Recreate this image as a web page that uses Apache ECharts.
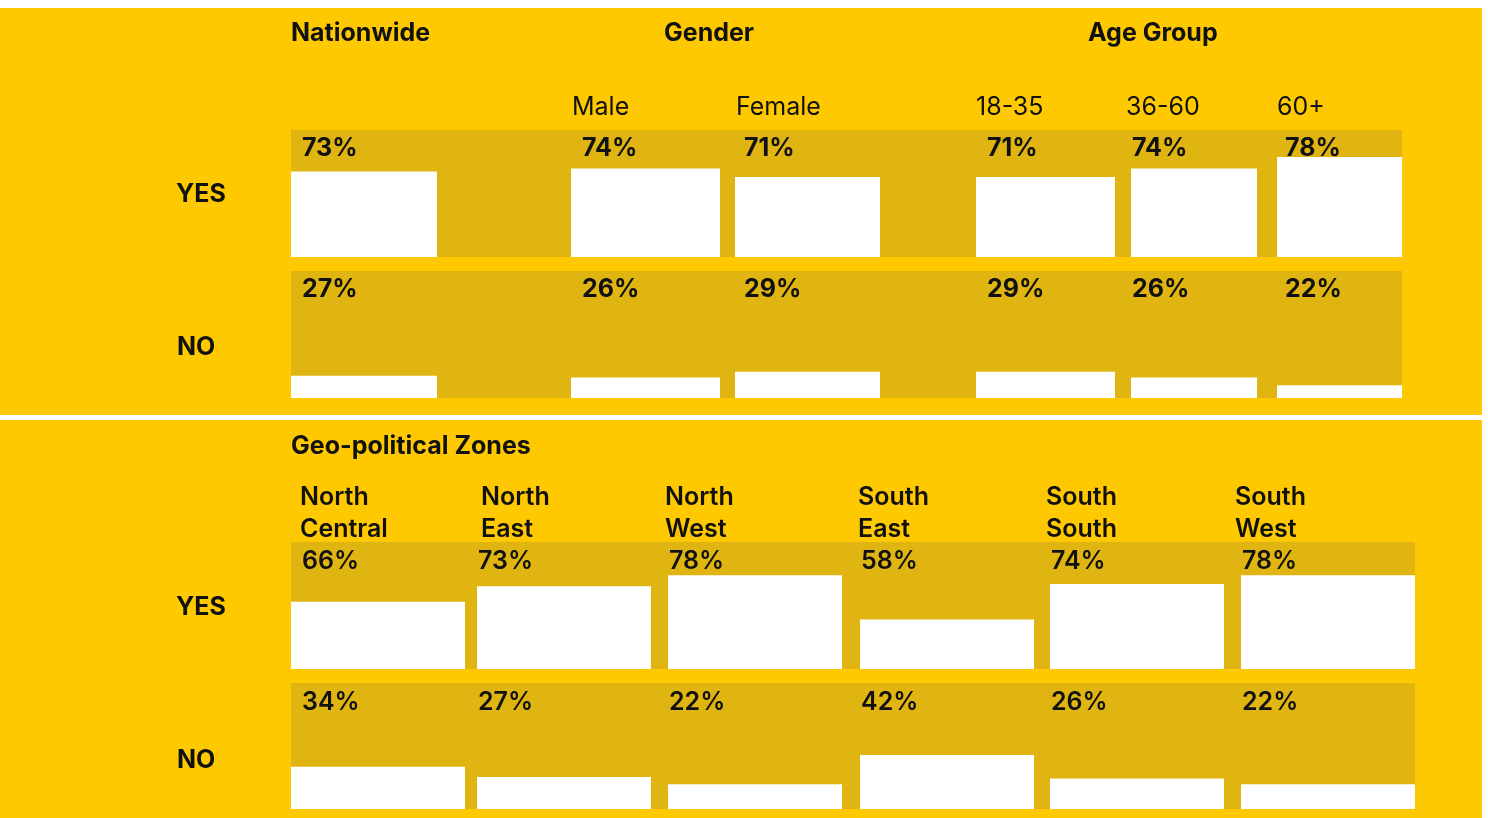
<!DOCTYPE html>
<html>
<head>
<meta charset="utf-8">
<title>Survey results</title>
<script src="https://cdn.jsdelivr.net/npm/echarts@6.0.0/dist/echarts.min.js"></script>
<style>
  html, body { margin: 0; padding: 0; background: #fff; }
  #chart { width: 1488px; height: 818px; }
</style>
</head>
<body>
<div id="chart"></div>
<script>
// ---- data ----
const topHeaders = ['Nationwide', 'Gender', 'Age Group'];
const topCategories = ['', 'Male', 'Female', '18-35', '36-60', '60+'];
const topYes = [73, 74, 71, 71, 74, 78];
const topNo = [27, 26, 29, 29, 26, 22];

const zoneHeader = 'Geo-political Zones';
const zoneCategories = ['North\nCentral', 'North\nEast', 'North\nWest', 'South\nEast', 'South\nSouth', 'South\nWest'];
const zoneYes = [66, 73, 78, 58, 74, 78];
const zoneNo = [34, 27, 22, 42, 26, 22];

const rowLabels = ['YES', 'NO'];

// ---- layout / style ----
const YELLOW = '#fec900';
const BAND = '#e0b512';
const FONT = 'Inter, "Open Sans", sans-serif';

const sections = [
  {
    panel: [8, 407],
    headers: topHeaders, headerX: [291, 664, 1088], headerTop: 18,
    categories: topCategories,
    cells: [[291, 146], [571, 149], [735, 145], [976, 139], [1131, 126], [1277, 125]],
    subX: [0, 572, 736, 976, 1126, 1277], subTop: 92, subWeight: 'normal', subLine: 30,
    labelDx: [11, 11, 9, 11, 1, 8], labelDy: 3, pctWeight: 'bold',
    band: [291, 1402],
    rows: [
      { values: topYes, top: 130, height: 127, min: 43, max: 87.5, labelTop: 179 },
      { values: topNo, top: 271, height: 127, min: 15.3, max: 81.8, labelTop: 332 }
    ]
  },
  {
    panel: [420, 398],
    headers: [zoneHeader], headerX: [291], headerTop: 431,
    categories: zoneCategories,
    cells: [[291, 174], [477, 174], [668, 174], [860, 174], [1050, 174], [1241, 174]],
    subX: [300, 481, 665, 858, 1046, 1235], subTop: 481, subWeight: 600, subLine: 32,
    labelDx: [11, 1, 1, 1, 1, 1], labelDy: 4, pctWeight: 600,
    band: [291, 1415],
    rows: [
      { values: zoneYes, top: 542, height: 127, min: 35.8, max: 92.9, labelTop: 592 },
      { values: zoneNo, top: 683, height: 126, min: 5, max: 91.4, labelTop: 745 }
    ]
  }
];

const grid = [], xAxis = [], yAxis = [], series = [], title = [], graphics = [];

sections.forEach(sec => {
  graphics.push({
    type: 'rect', z: 0, silent: true,
    shape: { x: 0, y: sec.panel[0], width: 1482, height: sec.panel[1] },
    style: { fill: YELLOW }
  });

  sec.headers.forEach((h, i) => {
    title.push({
      text: h, left: sec.headerX[i], top: sec.headerTop, padding: 0,
      textStyle: { fontFamily: FONT, fontSize: 25, fontWeight: 'bold', color: '#111', lineHeight: 30 }
    });
  });

  sec.categories.forEach((c, i) => {
    if (!c) return;
    title.push({
      text: c, left: sec.subX[i], top: sec.subTop, padding: 0,
      textStyle: { fontFamily: FONT, fontSize: 25, fontWeight: sec.subWeight, color: '#111', lineHeight: sec.subLine }
    });
  });

  sec.rows.forEach((row, r) => {
    graphics.push({
      type: 'rect', z: 1, silent: true,
      shape: { x: sec.band[0], y: row.top, width: sec.band[1] - sec.band[0], height: row.height },
      style: { fill: BAND }
    });
    title.push({
      text: rowLabels[r], left: r === 0 ? 176 : 177, top: row.labelTop, padding: 0,
      textStyle: { fontFamily: FONT, fontSize: 25, fontWeight: 'bold', color: '#111', lineHeight: 30 }
    });

    sec.cells.forEach((cell, i) => {
      const g = grid.length;
      grid.push({ left: cell[0], top: row.top, width: cell[1], height: row.height, containLabel: false });
      xAxis.push({ type: 'category', gridIndex: g, data: [sec.categories[i] || 'Nationwide'], show: false });
      yAxis.push({ type: 'value', gridIndex: g, min: row.min, max: row.max, startValue: row.min, show: false });
      const v = row.values[i];
      series.push({
        type: 'bar', xAxisIndex: g, yAxisIndex: g, data: [v],
        barWidth: '100%', itemStyle: { color: '#fff' }, silent: true, z: 3
      });
      // transparent full-height bar carries the percentage label at the band's top
      series.push({
        type: 'bar', xAxisIndex: g, yAxisIndex: g, data: [row.max],
        barWidth: '100%', barGap: '-100%', silent: true, z: 4,
        itemStyle: { color: 'rgba(0,0,0,0)' },
        label: {
          show: true, position: [sec.labelDx[i], sec.labelDy],
          formatter: () => v + '%',
          fontFamily: FONT, fontSize: 25, fontWeight: sec.pctWeight,
          color: '#111', lineHeight: 30, align: 'left', verticalAlign: 'top'
        }
      });
    });
  });
});

const chart = echarts.init(document.getElementById('chart'));
chart.setOption({
  backgroundColor: '#fff',
  animation: false,
  graphic: { elements: graphics },
  title, grid, xAxis, yAxis, series
});
window.addEventListener('resize', () => chart.resize());
</script>
</body>
</html>
